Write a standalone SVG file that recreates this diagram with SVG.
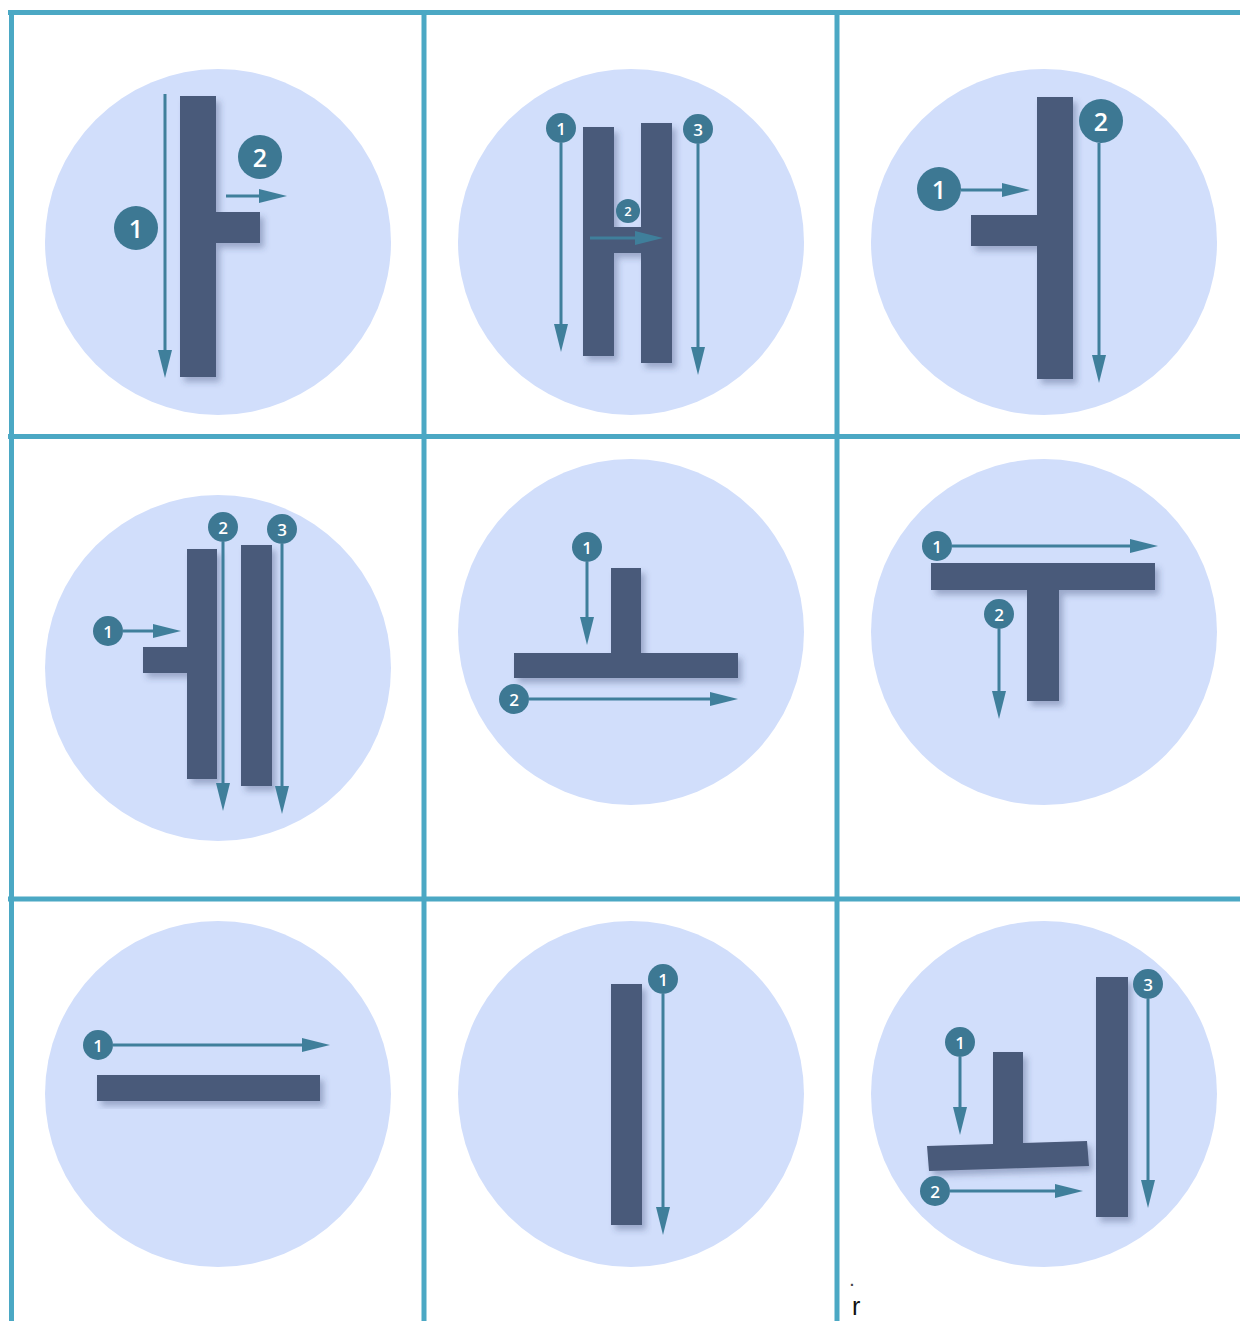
<svg xmlns="http://www.w3.org/2000/svg" width="1240" height="1321" viewBox="0 0 1240 1321">
<defs>
<filter id="sh" x="-30%" y="-30%" width="160%" height="160%">
<feDropShadow dx="4" dy="5" stdDeviation="3" flood-color="#34456e" flood-opacity="0.35"/>
</filter>
<marker id="ah" markerUnits="userSpaceOnUse" markerWidth="28" markerHeight="14" refX="18" refY="7" orient="auto">
<path d="M0,0 L28,7 L0,14 Z" fill="#3f7f9b"/>
</marker>
</defs>
<style>
.grid{stroke:#4ba8c4;stroke-width:5;fill:none}
.disc{fill:#d1defb}
.bar{fill:#4a5a7a;filter:url(#sh)}
.arr{stroke:#3f7f9b;stroke-width:3;fill:none;marker-end:url(#ah)}
.bd{fill:#3d7893}
.bt{fill:#ffffff;font-family:"Open Sans","Liberation Sans",sans-serif;font-weight:600;text-anchor:middle;dominant-baseline:central}
.L{font-size:25px}
.S{font-size:17px}
.T{font-size:13px}
</style>
<rect width="1240" height="1321" fill="#ffffff"/>
<g id="grid">
<line class="grid" x1="8" y1="12.5" x2="1240" y2="12.5"/>
<line class="grid" x1="8" y1="436.5" x2="1240" y2="436.5"/>
<line class="grid" x1="8" y1="899" x2="1240" y2="899"/>
<line class="grid" x1="11.5" y1="10" x2="11.5" y2="1321"/>
<line class="grid" x1="424" y1="10" x2="424" y2="1321"/>
<line class="grid" x1="837" y1="10" x2="837" y2="1321"/>
</g>
<g id="cell1">
<circle class="disc" cx="218" cy="242" r="173"/>
<path class="bar" d="M180,96 H216 V212 H260 V243 H216 V377 H180 Z"/>
<circle class="bd" cx="136" cy="228" r="22"/><text class="bt L" x="136" y="228">1</text>
<circle class="bd" cx="260" cy="157" r="22"/><text class="bt L" x="260" y="157">2</text>
</g>
<g id="cell2">
<circle class="disc" cx="631" cy="242" r="173"/>
<path class="bar" d="M583,127 H614 V227 H641 V123 H672 V363 H641 V253 H614 V356 H583 Z"/>
<circle class="bd" cx="561" cy="128" r="15"/><text class="bt S" x="561" y="128">1</text>
<circle class="bd" cx="698" cy="129" r="15"/><text class="bt S" x="698" y="129">3</text>
<circle class="bd" cx="628" cy="211" r="12"/><text class="bt T" x="628" y="211">2</text>
</g>
<g id="cell3">
<circle class="disc" cx="1044" cy="242" r="173"/>
<path class="bar" d="M1037,97 H1073 V379 H1037 V246 H971 V215 H1037 Z"/>
<circle class="bd" cx="939" cy="189" r="22"/><text class="bt L" x="939" y="189">1</text>
<circle class="bd" cx="1101" cy="121" r="22"/><text class="bt L" x="1101" y="121">2</text>
</g>
<g id="cell4">
<circle class="disc" cx="218" cy="668" r="173"/>
<path class="bar" d="M187,549 H217 V779 H187 V673 H143 V647 H187 Z"/>
<rect class="bar" x="241" y="545" width="31" height="241"/>
<circle class="bd" cx="108" cy="631" r="15"/><text class="bt S" x="108" y="631">1</text>
<circle class="bd" cx="223" cy="527" r="15"/><text class="bt S" x="223" y="527">2</text>
<circle class="bd" cx="282" cy="529" r="15"/><text class="bt S" x="282" y="529">3</text>
</g>
<g id="cell5">
<circle class="disc" cx="631" cy="632" r="173"/>
<path class="bar" d="M611,568 H641 V653 H738 V678 H514 V653 H611 Z"/>
<circle class="bd" cx="587" cy="547" r="15"/><text class="bt S" x="587" y="547">1</text>
<circle class="bd" cx="514" cy="699" r="15"/><text class="bt S" x="514" y="699">2</text>
</g>
<g id="cell6">
<circle class="disc" cx="1044" cy="632" r="173"/>
<path class="bar" d="M931,563 H1155 V590 H1059 V701 H1027 V590 H931 Z"/>
<circle class="bd" cx="937" cy="546" r="15"/><text class="bt S" x="937" y="546">1</text>
<circle class="bd" cx="999" cy="614" r="15"/><text class="bt S" x="999" y="614">2</text>
</g>
<g id="cell7">
<circle class="disc" cx="218" cy="1094" r="173"/>
<rect class="bar" x="97" y="1075" width="223" height="26"/>
<circle class="bd" cx="98" cy="1045" r="15"/><text class="bt S" x="98" y="1045">1</text>
</g>
<g id="cell8">
<circle class="disc" cx="631" cy="1094" r="173"/>
<rect class="bar" x="611" y="984" width="31" height="241"/>
<circle class="bd" cx="663" cy="979" r="15"/><text class="bt S" x="663" y="979">1</text>
</g>
<g id="cell9">
<circle class="disc" cx="1044" cy="1094" r="173"/>
<rect class="bar" x="1096" y="977" width="32" height="240"/>
<path class="bar" d="M993,1052 H1023 V1143 L1087,1141 L1089,1166 L929,1171 L927,1146 L993,1144 Z"/>
<circle class="bd" cx="960" cy="1042" r="15"/><text class="bt S" x="960" y="1042">1</text>
<circle class="bd" cx="935" cy="1191" r="15"/><text class="bt S" x="935" y="1191">2</text>
<circle class="bd" cx="1148" cy="984" r="15"/><text class="bt S" x="1148" y="984">3</text>
</g>
<g id="connectors">
<path class="arr" d="M165,94 V368"/>
<path class="arr" d="M226,196 H277"/>
<path class="arr" d="M561,143 V342"/>
<path class="arr" d="M698,144 V365"/>
<path class="arr" d="M590,238 H653"/>
<path class="arr" d="M961,190 H1020"/>
<path class="arr" d="M1099,143 V373"/>
<path class="arr" d="M123,631 H171"/>
<path class="arr" d="M223,542 V801"/>
<path class="arr" d="M282,544 V804"/>
<path class="arr" d="M587,562 V635"/>
<path class="arr" d="M529,699 H728"/>
<path class="arr" d="M952,546 H1148"/>
<path class="arr" d="M999,629 V709"/>
<path class="arr" d="M113,1045 H320"/>
<path class="arr" d="M663,994 V1225"/>
<path class="arr" d="M960,1057 V1125"/>
<path class="arr" d="M950,1191 H1073"/>
<path class="arr" d="M1148,999 V1198"/>
</g>
<text x="850" y="1286" font-family="Liberation Sans, sans-serif" font-size="14" font-weight="bold" fill="#444444">.</text>
<text x="852" y="1315" font-family="Liberation Sans, sans-serif" font-size="25" fill="#111111">r</text>
</svg>
